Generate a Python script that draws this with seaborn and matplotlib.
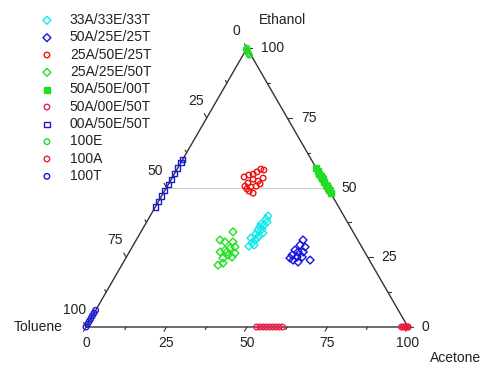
import numpy as np
import pandas as pd
import matplotlib
matplotlib.use("Agg")
import matplotlib.pyplot as plt
import seaborn as sns

# ---------------- data (percent acetone, percent ethanol; toluene = rest) ----------------
labels = ["33A/33E/33T", "50A/25E/25T", "25A/50E/25T", "25A/25E/50T", "50A/50E/00T",
          "50A/00E/50T", "00A/50E/50T", "100E", "100A", "100T"]

acetone_33 = [36.1, 36.5, 35.3, 36.9, 36.1, 37.4, 36.0, 37.1, 35.9, 37.0, 36.6, 36.6, 38.1, 37.5, 36.1, 37.4, 37.2]
ethanol_33 = [29.0, 30.1, 31.9, 31.2, 33.3, 32.6, 34.8, 35.1, 36.9, 36.6, 38.7, 39.8, 33.7, 29.4, 35.8, 37.6, 31.9]

acetone_50a = [51.8, 51.8, 53.7, 51.1, 52.4, 54.0, 51.1, 53.0, 54.6, 52.3, 54.2, 57.6, 51.0]
ethanol_50a = [31.2, 29.4, 28.7, 27.6, 26.9, 26.9, 25.8, 25.1, 25.1, 24.0, 23.3, 24.0, 24.7]

acetone_50e = [22.2, 23.3, 24.5, 25.3, 26.0, 27.1, 28.3, 27.3, 25.4, 24.5, 24.1, 26.1, 27.6, 26.3, 27.9, 25.2, 28.4]
ethanol_50e = [53.8, 54.5, 54.8, 55.6, 56.6, 56.3, 53.4, 52.3, 53.0, 51.6, 50.5, 50.2, 50.5, 48.7, 48.0, 49.5, 51.3]

acetone_50t = [28.6, 26.0, 27.9, 30.4, 31.9, 30.6, 29.4, 28.2, 33.0, 31.2, 30.2, 29.9, 31.1, 32.8, 30.3]
ethanol_50t = [34.1, 31.2, 30.5, 30.5, 28.7, 28.3, 27.6, 26.9, 26.5, 25.8, 24.7, 22.2, 22.9, 25.1, 26.9]

acetone_ae = [52.0, 51.0, 50.0, 49.5, 49.0, 48.0, 47.0, 46.5, 46.0, 45.0, 44.0, 43.0]
ethanol_ae = [48.0, 49.0, 50.0, 50.5, 51.0, 52.0, 53.0, 53.5, 54.0, 55.0, 56.0, 57.0]

acetone_at = [53.0, 54.0, 55.0, 56.0, 57.0, 58.0, 59.0, 60.0, 61.0]
ethanol_at = [0, 0, 0, 0, 0, 0, 0, 0, 0]

acetone_et = [0, 0, 0, 0, 0, 0, 0, 0, 0, 0]
ethanol_et = [43.0, 45.0, 47.0, 49.0, 51.0, 53.0, 55.0, 57.0, 59.0, 60.0]

acetone_e = [2.0, 1.5, 1.0, 0.5, 0.0, 0.0]
ethanol_e = [97.5, 98.0, 98.5, 99.0, 99.5, 100.0]

acetone_a = [98.0, 98.5, 99.0, 99.5, 100.0, 100.0]
ethanol_a = [0, 0, 0, 0, 0, 0]

acetone_t = [0, 0, 0, 0, 0, 0, 0]
ethanol_t = [0.0, 1.0, 2.0, 3.0, 4.0, 5.0, 6.0]

axis_ticks = [0, 25, 50, 75, 100]
minor_ticks = [12.5, 37.5, 62.5, 87.5]

groups = [
    (labels[0], acetone_33, ethanol_33, "#11e8e8", "D", False),
    (labels[1], acetone_50a, ethanol_50a, "#1414e0", "D", False),
    (labels[2], acetone_50e, ethanol_50e, "#f01010", "o", False),
    (labels[3], acetone_50t, ethanol_50t, "#22e022", "D", False),
    (labels[4], acetone_ae, ethanol_ae, "#22dd22", "s", True),
    (labels[5], acetone_at, ethanol_at, "#e8204a", "o", False),
    (labels[6], acetone_et, ethanol_et, "#1a1ad0", "s", False),
    (labels[7], acetone_e, ethanol_e, "#22dd22", "o", False),
    (labels[8], acetone_a, ethanol_a, "#f01838", "o", False),
    (labels[9], acetone_t, ethanol_t, "#1a1ad0", "o", False),
]

H = np.sqrt(3) / 2


def to_xy(a, e):
    a = np.asarray(a, float) / 100.0
    e = np.asarray(e, float) / 100.0
    return a + e / 2, e * H


rows = []
for name, a, e, c, m, filled in groups:
    x, y = to_xy(a, e)
    for xi, yi in zip(x, y):
        rows.append({"group": name, "x": xi, "y": yi})
df = pd.DataFrame(rows)

# ---------------- figure ----------------
sns.set_style("white")
plt.rcParams["font.family"] = ["Liberation Sans", "DejaVu Sans"]

W, Hpx = 484, 369
fig = plt.figure(figsize=(W / 100, Hpx / 100), dpi=100)
ax = fig.add_axes([0, 0, 1, 1])
S = 322.0  # pixels per unit
x0, y0 = 86.0, 327.0
ax.set_xlim(-x0 / S, (W - x0) / S)
ax.set_ylim(-(Hpx - y0) / S, y0 / S)
ax.axis("off")
px = 1.0 / S

# light grid line (constant ethanol)
for ev in [50]:
    yy = ev / 100 * H
    ax.plot([ev / 200, 1 - ev / 200], [yy, yy], color="#c8c8c8", lw=0.7, zorder=1)

# triangle
ax.plot([0, 1, 0.5, 0], [0, 0, H, 0], color="#333333", lw=1.0, zorder=2)

fs = 10
tc = "#222222"
# bottom axis: acetone
for v in axis_ticks + minor_ticks:
    L = 5 if v in axis_ticks else 3
    x, y = to_xy(v, 0)
    ax.plot([x, x - 0.5 * L * px], [y, y - 0.866 * L * px], color="#333333", lw=0.8)
for v in axis_ticks:
    x, y = to_xy(v, 0)
    ax.text(x, y - 16 * px, f"{v}", ha="center", va="center", fontsize=fs, color=tc)

# right axis: ethanol
for v in axis_ticks + minor_ticks:
    L = 5 if v in axis_ticks else 3
    x, y = to_xy(100 - v, v)
    ax.plot([x, x + L * px], [y, y], color="#333333", lw=0.8)
for v in axis_ticks:
    x, y = to_xy(100 - v, v)
    ax.text(x + 14 * px, y, f"{v}", ha="left", va="center", fontsize=fs, color=tc)

# left axis: toluene
for v in axis_ticks + minor_ticks:
    L = 5 if v in axis_ticks else 3
    x, y = to_xy(0, 100 - v)
    ax.plot([x, x - 0.5 * L * px], [y, y + 0.866 * L * px], color="#333333", lw=0.8)
for v in axis_ticks:
    x, y = to_xy(0, 100 - v)
    ax.text(x - 11 * px, y + 17 * px, f"{v}", ha="center", va="center", fontsize=fs, color=tc)

# axis names
ax.text((283 - x0) / S, (y0 - 20) / S, "Ethanol", ha="center", va="center", fontsize=fs, color=tc)
ax.text((38 - x0) / S, (y0 - 327) / S, "Toluene", ha="center", va="center", fontsize=fs, color=tc)
ax.text((456 - x0) / S, (y0 - 358) / S, "Acetone", ha="center", va="center", fontsize=fs, color=tc)

# points
for name, a, e, c, m, filled in groups:
    sub = df[df["group"] == name]
    sns.scatterplot(data=sub, x="x", y="y", ax=ax, marker=m, s=16 if m != "s" else 14,
                    facecolor=(c if filled else "none"), edgecolor=c, linewidth=1.0,
                    label=name, zorder=3, clip_on=False)

leg = ax.legend(loc="upper left", bbox_to_anchor=(40 / W, 1 - 13 / Hpx), frameon=False,
                fontsize=10, handletextpad=1.15, handlelength=1.0, labelspacing=0.24,
                borderpad=0, borderaxespad=0, markerscale=1.0)
for t in leg.get_texts():
    t.set_color(tc)

fig.savefig("out.png", dpi=100)
